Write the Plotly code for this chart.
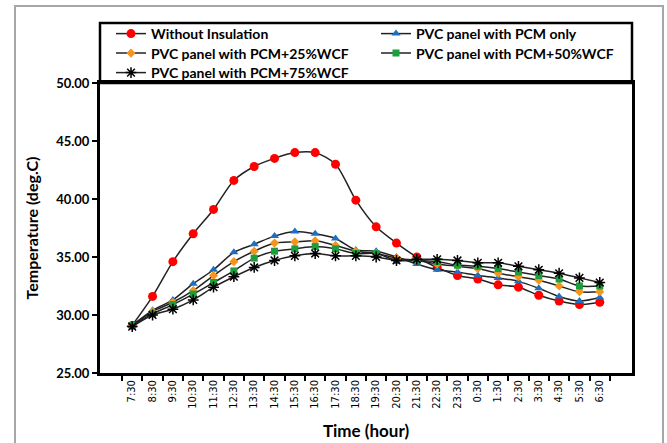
import plotly.graph_objects as go

# Hourly sampling times over one day (categorical x axis)
hours = ["7:30", "8:30", "9:30", "10:30", "11:30", "12:30", "13:30", "14:30",
         "15:30", "16:30", "17:30", "18:30", "19:30", "20:30", "21:30", "22:30",
         "23:30", "0:30", "1:30", "2:30", "3:30", "4:30", "5:30", "6:30"]

# Indoor temperature (deg.C) for each wall configuration
without_insulation = [29.1, 31.6, 34.6, 37.0, 39.1, 41.6, 42.8, 43.5, 44.0, 44.0,
                      43.0, 39.9, 37.6, 36.2, 35.0, 34.1, 33.4, 33.1, 32.6, 32.4,
                      31.7, 31.2, 30.9, 31.1]
pcm_only = [29.1, 30.4, 31.3, 32.7, 33.9, 35.4, 36.1, 36.8, 37.2, 37.0,
            36.6, 35.6, 35.5, 35.0, 34.4, 33.9, 33.7, 33.4, 33.2, 32.9,
            32.3, 31.6, 31.2, 31.5]
pcm_25wcf = [29.1, 30.3, 31.1, 32.1, 33.4, 34.6, 35.5, 36.2, 36.3, 36.4,
             36.0, 35.5, 35.3, 34.9, 34.7, 34.4, 34.2, 34.0, 33.6, 33.3,
             33.0, 32.5, 32.0, 32.0]
pcm_50wcf = [29.1, 30.1, 30.9, 31.8, 32.8, 33.8, 34.9, 35.5, 35.7, 35.9,
             35.7, 35.3, 35.3, 34.7, 34.7, 34.6, 34.3, 34.2, 34.0, 33.7,
             33.4, 33.1, 32.5, 32.5]
pcm_75wcf = [29.0, 30.0, 30.5, 31.3, 32.4, 33.3, 34.1, 34.7, 35.1, 35.3,
             35.1, 35.1, 35.0, 34.7, 34.8, 34.8, 34.7, 34.5, 34.5, 34.2,
             33.9, 33.6, 33.2, 32.8]

# (name, values, marker style, legend slot (column, row))
series = [
    ("Without Insulation", without_insulation,
     dict(symbol="circle", size=9, color="#FF0000"), (0, 0)),
    ("PVC panel with PCM only", pcm_only,
     dict(symbol="triangle-up", size=8, color="#1F6FC0"), (1, 0)),
    ("PVC panel with PCM+25%WCF", pcm_25wcf,
     dict(symbol="diamond", size=7, color="#F7941D"), (0, 1)),
    ("PVC panel with PCM+50%WCF", pcm_50wcf,
     dict(symbol="square", size=7, color="#1C9E3C"), (1, 1)),
    ("PVC panel with PCM+75%WCF", pcm_75wcf,
     dict(symbol="asterisk-open", size=9, color="#000000",
          line=dict(width=1.5, color="#000000")), (0, 2)),
]

# Plot area occupies pixels x 100..632, y 83..373
L, R, T, B = 100, 632, 83, 373
W, H = 667, 443
pw, ph = R - L, B - T

def px(x):
    return (x - L) / pw

def py(y):
    return (B - y) / ph

# legend grid: column left edges and row centres (pixels)
col_x = [111, 376]
row_y = [34, 53.5, 73]

legend_font = dict(size=14, family="Lato", weight="bold")
legend_common = dict(
    orientation="v", xanchor="left", yanchor="top", itemwidth=30,
    font=legend_font, bgcolor="rgba(0,0,0,0)", borderwidth=0, tracegroupgap=0,
)

fig = go.Figure()
legends = {}
for k, (name, vals, marker, (c, r)) in enumerate(series):
    lid = "legend" if k == 0 else f"legend{k + 1}"
    legends[lid] = dict(x=px(col_x[c]), y=py(row_y[r] - 16), **legend_common)
    fig.add_trace(go.Scatter(
        x=hours, y=vals, name=name, mode="lines+markers", legend=lid,
        line=dict(color="#222222", width=1.5, shape="spline", smoothing=0.8),
        marker=marker,
    ))

shapes = [
    # outer light-gray chart frame
    dict(type="rect", xref="paper", yref="paper",
         x0=px(15), x1=px(663), y0=py(452), y1=py(6),
         line=dict(color="#A6A6A6", width=2), layer="below"),
    # legend box sitting on top of the plot area
    dict(type="rect", xref="paper", yref="paper",
         x0=0, x1=1, y0=1, y1=py(23),
         line=dict(color="#000000", width=2.5)),
]

fig.update_layout(
    width=W, height=H,
    margin=dict(l=L, r=W - R, t=T, b=H - B, autoexpand=False),
    paper_bgcolor="white", plot_bgcolor="white",
    font=dict(family="Lato, DejaVu Sans, sans-serif", color="#000000"),
    showlegend=True,
    shapes=shapes,
    xaxis=dict(
        type="category", categoryorder="array", categoryarray=hours,
        automargin=False,
        showline=True, linecolor="#000000", linewidth=3, mirror=True,
        ticks="outside", ticklen=5, tickwidth=1.5, tickcolor="#000000",
        tickson="boundaries", tickangle=-90,
        tickfont=dict(family="DejaVu Sans", size=10),
        showgrid=False, zeroline=False,
        title=dict(text="Time (hour)", font=dict(size=17, family="Lato", weight="bold"), standoff=18),
    ),
    yaxis=dict(
        range=[25, 50], dtick=5, tickformat=".2f",
        automargin=False,
        showline=True, linecolor="#000000", linewidth=3, mirror=True,
        ticks="outside", ticklen=5, tickwidth=1.5, tickcolor="#000000",
        tickfont=dict(size=13, family="Lato", weight="bold"),
        showgrid=False, zeroline=False,
        title=dict(text="Temperature (deg.C)", font=dict(size=16, family="Lato", weight="bold"), standoff=14),
    ),
)
fig.update_layout(**legends)

fig.write_html("out.html")
